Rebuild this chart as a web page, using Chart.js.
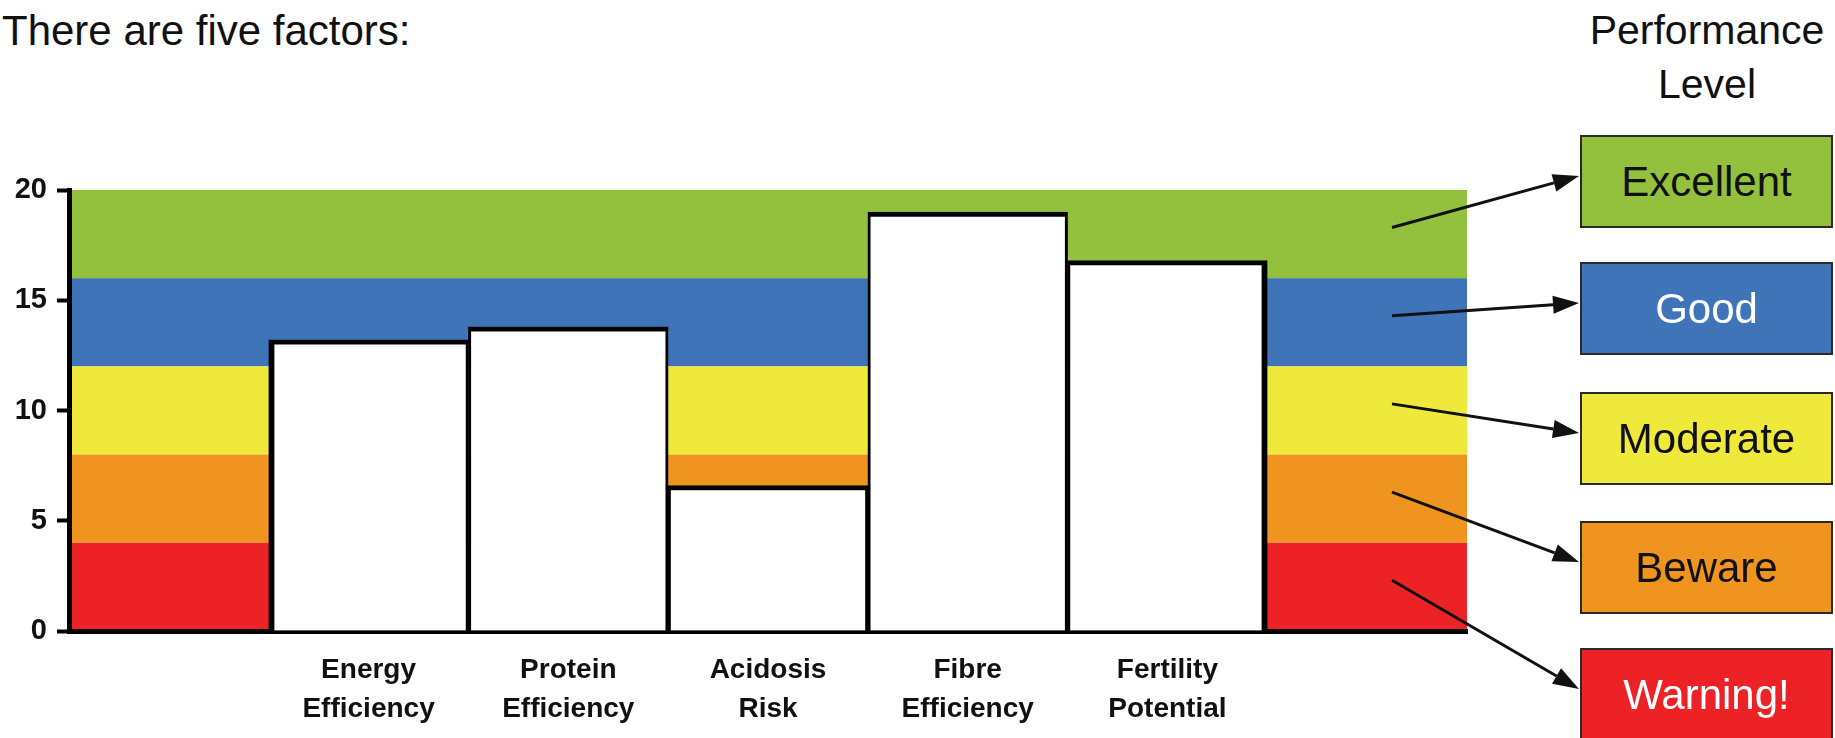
<!DOCTYPE html>
<html>
<head>
<meta charset="utf-8">
<script src="https://cdn.jsdelivr.net/npm/chart.js@4.4.1/dist/chart.umd.min.js"></script>
<style>
  html, body { margin: 0; padding: 0; background: #fff; overflow: hidden; }
  body { width: 1835px; height: 738px; position: relative; font-family: "Liberation Sans", Arial, sans-serif; }
  #chart { position: absolute; left: 0; top: 0; }
  .title { position: absolute; left: 2px; top: 10px; font-size: 42px; line-height: 42px; color: #111; white-space: nowrap; }
  .heading { position: absolute; left: 1580px; top: 3px; width: 254px; text-align: center; font-size: 41px; line-height: 54px; color: #111; }
  .level { position: absolute; width: 249px; height: 89px; border: 2px solid #2a2a2a; display: flex; align-items: center; justify-content: center; font-size: 42px; }
</style>
</head>
<body>
<div class="title">There are five factors:</div>
<div class="heading">Performance<br>Level</div>
<canvas id="chart" width="1835" height="738"></canvas>
<script>
// Factors along the bottom (an empty slot is kept on each side of them)
const factors = [
  ['Energy', 'Efficiency'],
  ['Protein', 'Efficiency'],
  ['Acidosis', 'Risk'],
  ['Fibre', 'Efficiency'],
  ['Fertility', 'Potential']
];
const scores = [13.2, 13.8, 6.6, 19.0, 16.8];
const yTicks = [0, 5, 10, 15, 20];

// Performance levels, best first
const levelNames = ['Excellent', 'Good', 'Moderate', 'Beware', 'Warning!'];
const levelFrom = [16, 12, 8, 4, 0];
const levelTo = [20, 16, 12, 8, 4];
const levelColors = ['#93c13e', '#3f74b9', '#efe93c', '#f09420', '#ec2227'];
const levelTextColors = ['#111', '#fff', '#111', '#111', '#fff'];

// Layout of the level boxes on the right and where each arrow starts (in y units)
const boxLeft = 1580;
const boxTops = [135, 262, 392, 521, 648];
const arrowFrom = [18.3, 14.3, 10.3, 6.3, 2.3];

// Build the level boxes
boxTops.forEach((top, i) => {
  const box = document.createElement('div');
  box.className = 'level';
  box.style.left = boxLeft + 'px';
  box.style.top = top + 'px';
  box.style.background = levelColors[i];
  box.style.color = levelTextColors[i];
  box.textContent = levelNames[i];
  document.body.appendChild(box);
});

// Coloured level bands behind the bars
const bandsPlugin = {
  id: 'bands',
  beforeDraw(chart) {
    const { ctx, chartArea, scales: { y } } = chart;
    ctx.save();
    levelFrom.forEach((lo, i) => {
      const top = y.getPixelForValue(levelTo[i]);
      const bottom = y.getPixelForValue(lo);
      ctx.fillStyle = levelColors[i];
      ctx.fillRect(chartArea.left, top, chartArea.right - chartArea.left, bottom - top);
    });
    ctx.restore();
  }
};

// Arrows from each band out to its level box
const arrowsPlugin = {
  id: 'arrows',
  afterDraw(chart) {
    const { ctx, chartArea, scales: { y } } = chart;
    const x0 = chartArea.right - 75;
    ctx.save();
    ctx.strokeStyle = '#111';
    ctx.fillStyle = '#111';
    ctx.lineWidth = 3;
    boxTops.forEach((top, i) => {
      const y0 = y.getPixelForValue(arrowFrom[i]);
      const x1 = boxLeft - 1, y1 = top + 41;
      const a = Math.atan2(y1 - y0, x1 - x0);
      const head = 26, half = 9;
      const bx = x1 - head * Math.cos(a), by = y1 - head * Math.sin(a);
      ctx.beginPath();
      ctx.moveTo(x0, y0);
      ctx.lineTo(bx, by);
      ctx.stroke();
      ctx.beginPath();
      ctx.moveTo(x1, y1);
      ctx.lineTo(bx + half * Math.sin(a), by - half * Math.cos(a));
      ctx.lineTo(bx - half * Math.sin(a), by + half * Math.cos(a));
      ctx.closePath();
      ctx.fill();
    });
    ctx.restore();
  }
};

const font = '"Liberation Sans", Arial, sans-serif';

new Chart(document.getElementById('chart'), {
  type: 'bar',
  data: {
    labels: ['', ...factors, ''],
    datasets: [{
      data: [null, ...scores, null],
      backgroundColor: '#fff',
      borderColor: '#000',
      // neighbouring bars share one edge, so split the line between them
      borderWidth: c => ({
        top: 5,
        left: c.dataIndex === 1 ? 6 : 3,
        right: c.dataIndex === factors.length ? 6 : 3,
        bottom: 0
      }),
      borderSkipped: 'start',
      categoryPercentage: 1,
      barPercentage: 1
    }]
  },
  options: {
    responsive: false,
    animation: false,
    layout: { padding: { top: 190, right: 368, bottom: 0, left: 0 } },
    plugins: { legend: { display: false }, tooltip: { enabled: false } },
    scales: {
      x: {
        z: 1,
        grid: { display: false, drawTicks: false },
        border: { display: true, color: '#000', width: 5 },
        ticks: {
          color: '#111',
          font: { family: font, size: 28, weight: 'bold', lineHeight: 1.42 },
          padding: 19,
          maxRotation: 0,
          autoSkip: false
        },
        afterFit: s => { s.height = 107; }
      },
      y: {
        min: 0,
        max: 20,
        afterBuildTicks: s => { s.ticks = yTicks.map(v => ({ value: v })); },
        grid: { display: true, drawOnChartArea: false, drawTicks: true, tickLength: 12, tickWidth: 4, tickColor: '#000' },
        border: { display: true, color: '#000', width: 5 },
        ticks: { color: '#111', font: { family: font, size: 29, weight: 'bold' }, padding: 10 },
        afterFit: s => { s.width = 69; }
      }
    }
  },
  plugins: [bandsPlugin, arrowsPlugin]
});
</script>
</body>
</html>
